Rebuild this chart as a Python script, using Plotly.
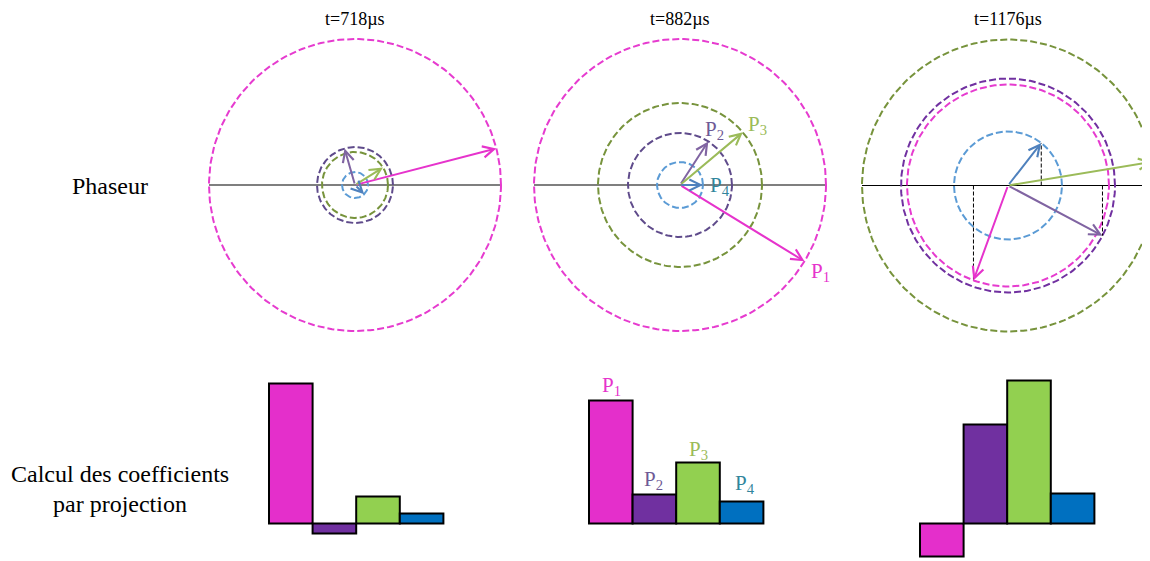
import numpy as np
import plotly.graph_objects as go

W, H = 1150, 561
OFF = 8  # page body margin compensation

# ---------------- data ----------------
phasor_names = ["P<sub>1</sub>", "P<sub>2</sub>", "P<sub>3</sub>", "P<sub>4</sub>"]
times = ["t=718µs", "t=882µs", "t=1176µs"]

amp_718 = [146, 38, 33, 13]
phase_718 = [14.5, 106, 32, -45]
amp_882 = [146, 52, 82, 23]
phase_882 = [-31.5, 57, 40, 0]
amp_1176 = [101, 107, 146, 54]
phase_1176 = [-110, -28, 9.3, 52]

coef_718 = [140, -10, 27, 10]
coef_882 = [123, 29, 61, 22]
coef_1176 = [-33, 99, 143, 30]

# ---------------- styles ----------------
circle_colors = [
    ["#E63BCF", "#5F4B8B", "#77933C", "#5B9BD5"],
    ["#E63BCF", "#5F4B8B", "#77933C", "#5B9BD5"],
    ["#E63BCF", "#7030A0", "#77933C", "#5B9BD5"],
]
arrow_colors = ["#E633CC", "#8064A2", "#9BBB59", "#4F81BD"]
bar_colors = ["#E42FCB", "#7030A0", "#92D050", "#0070C0"]
label_colors = ["#E633CC", "#6E5A96", "#9BBB59", "#31859C"]
FONT = "Liberation Serif, Times New Roman, serif"

amps = [amp_718, amp_882, amp_1176]
phases = [phase_718, phase_882, phase_1176]
coefs = [coef_718, coef_882, coef_1176]

centers = [(355, 185), (680, 185), (1008, 185.5)]
bar_left = [269, 589, 920]
bar_w = 43.6
baseline_px = 523.5
VIS_W = W - OFF

fig = go.Figure()
layout = dict(width=W, height=H, margin=dict(l=0, r=0, t=0, b=0),
              paper_bgcolor="white", plot_bgcolor="rgba(0,0,0,0)",
              showlegend=False, annotations=[])

def ax_hidden(**kw):
    d = dict(visible=False, showgrid=False, zeroline=False, fixedrange=True)
    d.update(kw)
    return d

theta = np.linspace(0, 2 * np.pi, 241)
annos = []

for k in range(3):
    xi = 2 * k + 1
    xname = "x" if xi == 1 else f"x{xi}"
    yname = "y" if xi == 1 else f"y{xi}"
    cx, cy = centers[k][0] - OFF, centers[k][1] - OFF
    half = 150
    xl = cx - half
    xr = min(cx + half, VIS_W)
    layout["xaxis" if xi == 1 else f"xaxis{xi}"] = ax_hidden(
        domain=[xl / W, xr / W], range=[-(cx - xl), xr - cx], anchor=yname)
    yb = H - cy - half
    yt = H - cy + half
    layout["yaxis" if xi == 1 else f"yaxis{xi}"] = ax_hidden(
        domain=[yb / H, yt / H], range=[-half, half], anchor=xname)

    A = amps[k]
    P = np.radians(phases[k])
    rmax = max(A)
    fig.add_trace(go.Scatter(x=[-rmax, rmax], y=[0, 0], mode="lines",
                             line=dict(color="black", width=1.2),
                             xaxis=xname, yaxis=yname, hoverinfo="skip"))
    for i in range(4):
        fig.add_trace(go.Scatter(x=A[i] * np.cos(theta), y=A[i] * np.sin(theta),
                                 mode="lines",
                                 line=dict(color=circle_colors[k][i], width=2, dash="7px,3px"),
                                 xaxis=xname, yaxis=yname, hoverinfo="skip"))
    if k == 2:
        for i in range(4):
            tx, ty = A[i] * np.cos(P[i]), A[i] * np.sin(P[i])
            fig.add_trace(go.Scatter(x=[tx, tx], y=[0, ty], mode="lines",
                                     line=dict(color="black", width=1, dash="4px,2px"),
                                     xaxis=xname, yaxis=yname, hoverinfo="skip"))
    for i in range(4):
        tx, ty = A[i] * np.cos(P[i]), A[i] * np.sin(P[i])
        annos.append(dict(x=tx, y=ty, ax=0, ay=0, xref=xname, yref=yname,
                          axref=xname, ayref=yname, text="", showarrow=True,
                          arrowhead=5, arrowsize=1.1, arrowwidth=2,
                          arrowcolor=arrow_colors[i], standoff=0, startstandoff=0))

    bi = 2 * k + 2
    bx = f"x{bi}"
    by = f"y{bi}"
    left = bar_left[k] - OFF - bar_w * 0.5
    layout[f"xaxis{bi}"] = ax_hidden(domain=[left / W, (left + bar_w * 5) / W],
                                     range=[-1, 4], anchor=by)
    y_lo = -(H - (baseline_px - OFF))
    layout[f"yaxis{bi}"] = ax_hidden(domain=[0, 200 / H], range=[y_lo, y_lo + 200], anchor=bx)
    fig.add_trace(go.Bar(x=[0, 1, 2, 3], y=coefs[k], width=1,
                         marker=dict(color=bar_colors, line=dict(color="black", width=2)),
                         xaxis=bx, yaxis=by, hoverinfo="skip"))

def pa(x, y, text, size, color="black", xanchor="center"):
    annos.append(dict(x=(x - OFF) / W, y=1 - (y - OFF) / H, xref="paper", yref="paper",
                      text=text, showarrow=False, xanchor=xanchor, yanchor="middle",
                      font=dict(family=FONT, size=size, color=color)))

# time titles, anchored to the top of the figure
for k in range(3):
    annos.append(dict(x=(centers[k][0] - OFF) / W, y=1, xref="paper", yref="paper",
                      text=times[k], showarrow=False, xanchor="center", yanchor="top",
                      borderpad=0, font=dict(family=FONT, size=18, color="black")))

pa(110, 186, "Phaseur", 24)
pa(120, 474, "Calcul des coefficients", 24)
pa(120, 504, "par projection", 24)

for (x, y), t, c in zip([(820, 272), (714, 130), (757, 125), (720, 186)], phasor_names, label_colors):
    pa(x, y, t, 21, c)
for (x, y), t, c in zip([(611, 386), (653, 480), (698, 450), (745, 484)], phasor_names, label_colors):
    pa(x, y, t, 21, c)

layout["annotations"] = annos
fig.update_layout(**layout)
fig.write_html("out.html")
